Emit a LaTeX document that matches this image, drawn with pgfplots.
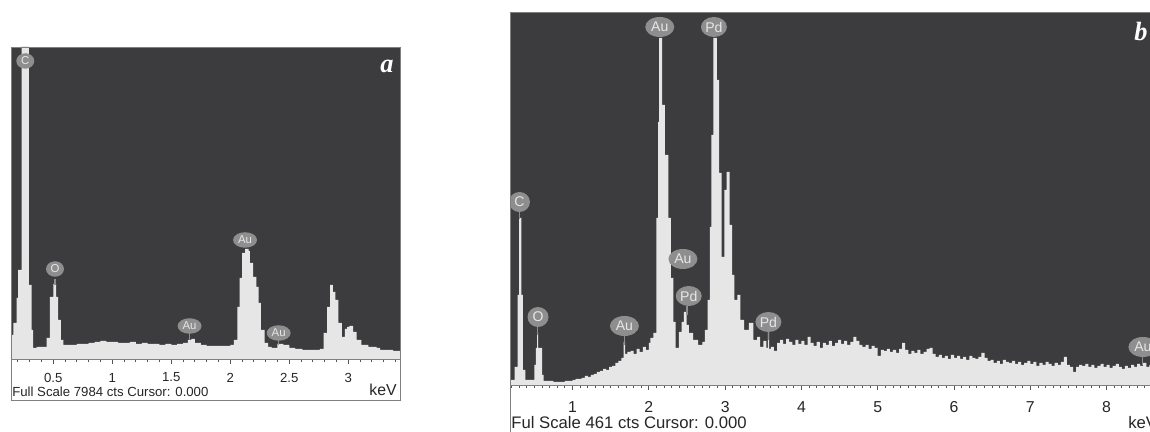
\documentclass[border=0pt]{standalone}
\usepackage{pgfplots}
\pgfplotsset{compat=1.18}
\usepackage{fontspec}
\setmainfont{Liberation Sans}
\newfontfamily\serifit{Liberation Serif}
\usetikzlibrary{shapes.geometric}
\definecolor{darkbg}{HTML}{3C3C3E}
\definecolor{specfill}{HTML}{E6E6E6}
\definecolor{framec}{HTML}{808080}
\definecolor{lblfill}{HTML}{8E8E8E}
\definecolor{lbltext}{HTML}{E6E6E6}
\definecolor{tickc}{HTML}{555555}
\tikzset{
  lblA/.style={ellipse, fill=lblfill, text=lbltext, inner sep=0pt, minimum width=0.36cm, minimum height=0.31cm, font=\fontsize{6.5}{6.5}\selectfont},
  lblB/.style={ellipse, fill=lblfill, text=lbltext, inner sep=0pt, minimum width=0.42cm, minimum height=0.40cm, font=\fontsize{8}{8}\selectfont},
  stem/.style={draw=lblfill, line width=0.6pt}
}
\begin{document}
\begin{tikzpicture}
\fill[white] (0,0) rectangle (23,8.64);
% ---------------- panel a ----------------
\begin{axis}[at={(0.22cm,1.46cm)}, anchor=south west, scale only axis,
  width=7.78cm, height=6.24cm, xmin=0.142, xmax=3.438, ymin=0, ymax=312,
  axis background/.style={fill=darkbg},
  axis line style={draw=framec, line width=0.5pt},
  ytick=\empty, xtick={0.5,1,...,3}, minor xtick={0.2,0.3,...,3.4},
  tick align=outside, xtick pos=lower,
  major tick length=0.1cm, minor tick length=0.06cm,
  tick style={draw=tickc, line width=0.5pt},
  xticklabel style={font=\fontsize{7.5}{8}\selectfont, text=black!85, anchor=center, yshift=-0.27cm},
  /pgf/number format/assume math mode=true]
\addplot[const plot, fill=specfill, draw=none] coordinates {
(0.142,24) (0.163,36) (0.19,61) (0.203,89) (0.232,330) (0.294,74) (0.316,29) (0.33,11)
(0.36,12) (0.444,21) (0.472,62) (0.50,75) (0.525,62) (0.542,39) (0.565,19) (0.585,14)
(0.66,14) (0.70,15) (0.75,15) (0.80,16) (0.85,17) (0.90,18) (0.95,17) (1.00,17)
(1.05,16) (1.10,16) (1.15,17) (1.20,15) (1.25,16) (1.30,15) (1.35,15) (1.40,14)
(1.45,15) (1.50,14) (1.55,15) (1.60,16) (1.64,19) (1.67,20) (1.70,16) (1.75,14)
(1.80,13) (1.85,13) (1.90,13) (1.95,13) (2.00,14) (2.03,19) (2.06,52) (2.08,81)
(2.10,106) (2.125,110) (2.155,108) (2.167,96) (2.193,82) (2.22,72) (2.24,56) (2.26,29)
(2.29,16) (2.32,12) (2.35,11) (2.40,15) (2.45,14) (2.50,11) (2.55,10) (2.61,9)
(2.70,9) (2.76,10) (2.79,26) (2.82,52) (2.845,74) (2.87,67) (2.89,59) (2.915,36)
(2.945,22) (2.97,30) (2.99,32) (3.01,33) (3.04,27) (3.07,19) (3.11,14) (3.17,12)
(3.24,11) (3.27,9) (3.33,9) (3.38,8) (3.44,7)
} \closedcycle;
\draw[stem] (axis cs:0.515,80) -- (axis cs:0.515,74);
\draw[stem] (axis cs:1.655,26) -- (axis cs:1.655,19);
\draw[stem] (axis cs:2.41,20) -- (axis cs:2.41,14);
\node[lblA] at (axis cs:0.263,298) {C};
\node[lblA] at (axis cs:0.515,90) {O};
\node[lblA, minimum width=0.48cm] at (axis cs:2.125,119) {Au};
\node[lblA, minimum width=0.48cm] at (axis cs:1.655,33) {Au};
\node[lblA, minimum width=0.48cm] at (axis cs:2.41,26) {Au};
\end{axis}
\draw[framec, line width=0.5pt] (0.22,0.64) rectangle (8.0,7.70);
\node[inner sep=0pt, anchor=base west, font=\fontsize{7.5}{8}\selectfont, text=black!85] at (0.24,0.70) {Full Scale 7984 cts Cursor: 0.000};
\node[inner sep=0pt, anchor=base east, font=\fontsize{9}{10}\selectfont, text=black!85] at (7.94,0.72) {keV};
\node[text=white, font=\serifit\bfseries\itshape\fontsize{15}{15}\selectfont] at (7.74,7.32) {a};
% ---------------- panel b ----------------
\begin{axis}[at={(10.2cm,0.94cm)}, anchor=south west, scale only axis,
  width=13.0cm, height=7.46cm, xmin=0.18, xmax=8.70, ymin=0, ymax=373,
  axis background/.style={fill=darkbg},
  axis line style={draw=framec, line width=0.5pt},
  ytick=\empty, xtick={1,...,8}, minor xtick={0.2,0.3,...,8.7},
  tick align=outside, xtick pos=lower,
  major tick length=0.1cm, minor tick length=0.06cm,
  tick style={draw=tickc, line width=0.5pt},
  xticklabel style={font=\fontsize{9}{9}\selectfont, text=black!85, anchor=center, yshift=-0.34cm},
  /pgf/number format/assume math mode=true]
\addplot[const plot, fill=specfill, draw=none] coordinates {
(0.18,5) (0.24,18) (0.28,90) (0.30,167) (0.33,90) (0.35,15) (0.38,5) (0.50,20)
(0.52,37) (0.535,52) (0.55,37) (0.60,10) (0.62,4) (0.75,3) (0.90,4) (1.00,5)
(1.04,6) (1.08,6) (1.12,7) (1.16,9) (1.20,8) (1.24,10) (1.28,11) (1.32,13)
(1.36,14) (1.40,16) (1.44,15) (1.48,18) (1.52,19) (1.56,22) (1.60,24) (1.64,27)
(1.67,43) (1.69,31) (1.72,33) (1.76,34) (1.80,31) (1.84,36) (1.88,33) (1.92,38)
(1.96,35) (2.00,42) (2.02,47) (2.06,52) (2.10,167) (2.12,263) (2.135,347) (2.175,280)
(2.21,230) (2.255,167) (2.29,107) (2.32,63) (2.35,37) (2.395,53) (2.43,63) (2.46,73)
(2.495,60) (2.525,52) (2.58,45) (2.645,40) (2.70,43) (2.735,55) (2.77,85) (2.80,158)
(2.82,250) (2.845,347) (2.89,305) (2.92,212) (2.955,128) (2.99,195) (3.02,213) (3.06,160)
(3.09,110) (3.12,85) (3.16,90) (3.20,65) (3.25,55) (3.31,62) (3.37,45) (3.42,48)
(3.46,38) (3.50,44) (3.54,37) (3.56,55) (3.575,36)
(3.60,38) (3.64,34) (3.68,42) (3.72,45) (3.76,41) (3.80,46) (3.84,43) (3.88,40)
(3.92,45) (3.96,41) (4.00,44) (4.04,40) (4.08,48) (4.12,42) (4.16,39) (4.20,43)
(4.24,37) (4.28,42) (4.32,40) (4.36,44) (4.40,39) (4.44,42) (4.48,45) (4.52,41)
(4.56,44) (4.60,40) (4.64,43) (4.68,48) (4.72,44) (4.76,40) (4.80,38) (4.84,40)
(4.88,36) (4.92,39) (4.96,37) (5.00,29) (5.04,35) (5.08,34) (5.12,36) (5.16,33)
(5.20,35) (5.24,32) (5.28,36) (5.32,42) (5.36,35) (5.40,31) (5.44,34) (5.48,32)
(5.52,35) (5.56,31) (5.60,33) (5.64,36) (5.68,37) (5.72,31) (5.76,28) (5.80,30)
(5.84,27) (5.88,29) (5.92,26) (5.96,30) (6.00,27) (6.04,29) (6.08,26) (6.12,28)
(6.16,25) (6.20,29) (6.24,27) (6.28,26) (6.32,28) (6.36,32) (6.40,27) (6.44,24)
(6.48,25) (6.52,22) (6.56,24) (6.60,21) (6.64,25) (6.68,23) (6.72,22) (6.76,24)
(6.80,21) (6.84,23) (6.88,20) (6.92,22) (6.96,24) (7.00,21) (7.04,23) (7.08,19)
(7.12,22) (7.16,20) (7.20,23) (7.24,21) (7.28,19) (7.32,22) (7.36,20) (7.40,23)
(7.44,28) (7.48,20) (7.52,18) (7.56,13) (7.60,18) (7.64,20) (7.68,19) (7.72,21)
(7.76,18) (7.80,20) (7.84,17) (7.88,19) (7.92,21) (7.96,18) (8.00,20) (8.04,17)
(8.08,19) (8.12,21) (8.16,18) (8.20,16) (8.24,19) (8.28,17) (8.32,20) (8.36,18)
(8.40,21) (8.44,19) (8.48,22) (8.52,18) (8.56,20) (8.60,19) (8.64,21) (8.68,18)
(8.72,20)
} \closedcycle;
\draw[stem] (axis cs:0.304,173) -- (axis cs:0.304,166);
\draw[stem] (axis cs:0.543,58) -- (axis cs:0.543,50);
\draw[stem] (axis cs:1.68,49) -- (axis cs:1.68,40);
\draw[stem] (axis cs:2.50,79) -- (axis cs:2.50,70);
\draw[stem] (axis cs:3.567,53) -- (axis cs:3.567,45);
\draw[stem] (axis cs:8.476,28) -- (axis cs:8.476,20);
\node[lblB, minimum width=0.58cm] at (axis cs:2.143,358) {Au};
\node[lblB, minimum width=0.52cm] at (axis cs:2.853,358) {Pd};
\node[lblB] at (axis cs:0.304,183) {C};
\node[lblB] at (axis cs:0.547,68) {O};
\node[lblB, minimum width=0.58cm] at (axis cs:1.68,59) {Au};
\node[lblB, minimum width=0.58cm] at (axis cs:2.447,126) {Au};
\node[lblB, minimum width=0.52cm] at (axis cs:2.523,89) {Pd};
\node[lblB, minimum width=0.52cm] at (axis cs:3.567,63) {Pd};
\node[lblB, minimum width=0.58cm] at (axis cs:8.476,38) {Au};
\end{axis}
\draw[framec, line width=0.5pt] (10.2,-0.3) rectangle (23.4,8.40);
\node[inner sep=0pt, anchor=base west, font=\fontsize{9.5}{10}\selectfont, text=black!85] at (10.22,0.06) {Ful Scale 461 cts Cursor: 0.000};
\node[inner sep=0pt, anchor=base west, font=\fontsize{9.5}{10}\selectfont, text=black!85] at (22.56,0.06) {keV};
\node[text=white, font=\serifit\bfseries\itshape\fontsize{15}{15}\selectfont] at (22.82,8.0) {b};
\pgfresetboundingbox
\useasboundingbox (0,0) rectangle (23,8.64);
\end{tikzpicture}
\end{document}
